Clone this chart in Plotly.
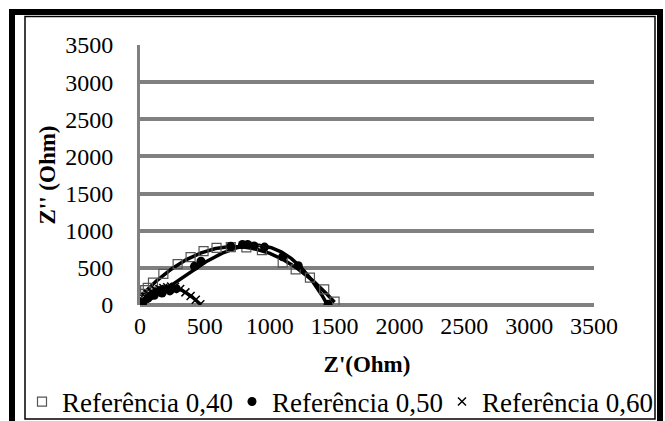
import numpy as np
import plotly.graph_objects as go

# ---- data ----
x40 = [5, 20, 40, 60, 100, 180, 290, 390, 490, 590, 700, 820, 940, 1100, 1200, 1310, 1420, 1500]
y40 = [40, 150, 200, 230, 300, 420, 550, 645, 725, 770, 780, 775, 740, 570, 480, 368, 210, 45]

x50 = [20, 60, 110, 170, 230, 280, 420, 470, 700, 790, 830, 880, 960, 1100, 1220, 1450]
y50 = [30, 90, 130, 160, 190, 220, 520, 590, 790, 815, 815, 795, 780, 650, 530, 10]

x60 = [5, 20, 40, 60, 90, 120, 150, 180, 210, 240, 270, 310, 350, 390, 430, 465]
y60 = [10, 60, 110, 150, 180, 200, 215, 230, 240, 250, 245, 215, 170, 120, 70, 10]

series_names = ["Referência 0,40", "Referência 0,50", "Referência 0,60"]
tick_vals = [0, 500, 1000, 1500, 2000, 2500, 3000, 3500]

W, H = 665, 421
L, R, T, B = 140, 594, 45, 305   # plot area in pixels

def px(xp):
    return (xp - L) / (R - L)

def py(yp):
    return (B - yp) / (B - T)

FONT = "Liberation Serif"

fig = go.Figure()

def trend(xs, ys, deg):
    c = np.polyfit(xs, ys, deg)
    xx = np.linspace(min(xs), max(xs), 200)
    yy = np.polyval(c, xx)
    return xx, yy

# trendlines
for xs, ys, deg in [(x40, y40, 2), (x50, y50, 3), (x60, y60, 3)]:
    xx, yy = trend(xs, ys, deg)
    fig.add_trace(go.Scatter(x=xx, y=yy, mode="lines",
                             line=dict(color="black", width=3.5),
                             showlegend=False, hoverinfo="skip"))

fig.add_trace(go.Scatter(x=x40, y=y40, mode="markers", name=series_names[0], legend="legend",
                         marker=dict(symbol="square-open", size=9, color="#555555",
                                     line=dict(width=1.2))))
fig.add_trace(go.Scatter(x=x50, y=y50, mode="markers", name=series_names[1], legend="legend2",
                         marker=dict(symbol="circle", size=9, color="black")))
fig.add_trace(go.Scatter(x=x60, y=y60, mode="markers", name=series_names[2], legend="legend3",
                         marker=dict(symbol="x-thin", size=8, color="black",
                                     line=dict(width=1.5, color="black"))))

shapes = [
    # outer thick frame
    dict(type="rect", xref="paper", yref="paper",
         x0=px(12), x1=px(660), y0=py(425), y1=py(12),
         line=dict(color="black", width=6), fillcolor="rgba(0,0,0,0)", layer="above"),
    # inner thin frame
    dict(type="rect", xref="paper", yref="paper",
         x0=px(25), x1=px(655), y0=py(419), y1=py(16.5),
         line=dict(color="black", width=1.5), fillcolor="rgba(0,0,0,0)", layer="above"),
]

def legend_at(xpix):
    return dict(orientation="h", xref="container", yref="container",
                x=xpix / W, y=1 - 402 / H, xanchor="left", yanchor="middle",
                font=dict(family=FONT, size=27, color="black"),
                itemwidth=30, bgcolor="rgba(0,0,0,0)", borderwidth=0)

fig.update_layout(
    width=W, height=H,
    margin=dict(l=L, r=W - R, t=T, b=H - B, pad=0, autoexpand=False),
    paper_bgcolor="white", plot_bgcolor="white",
    font=dict(family=FONT, size=24, color="black"),
    shapes=shapes,
    showlegend=True,
    legend=legend_at(22),
    legend2=legend_at(232),
    legend3=legend_at(442),
    xaxis=dict(range=[0, 3500], tickvals=tick_vals, showgrid=False, zeroline=False,
               showline=False, ticks="", tickfont=dict(family=FONT, size=24), automargin=False,
               ticklabelstandoff=4,
               title=dict(text="<b>Z'(Ohm)</b>", font=dict(family=FONT, size=23), standoff=24)),
    yaxis=dict(range=[0, 3500], tickvals=tick_vals, showgrid=True, gridcolor="#808080",
               gridwidth=4, zeroline=True, zerolinecolor="#808080", zerolinewidth=4,
               showline=True, linecolor="#808080", linewidth=3, ticks="", automargin=False,
               ticklabelstandoff=19, tickfont=dict(family=FONT, size=24),
               title=dict(text="<b>Z'' (Ohm)</b>", font=dict(family=FONT, size=23), standoff=4)),
)

fig.write_html("out.html", config={"displayModeBar": False},
               post_script="document.body.style.margin='0';document.body.style.overflow='hidden';")
